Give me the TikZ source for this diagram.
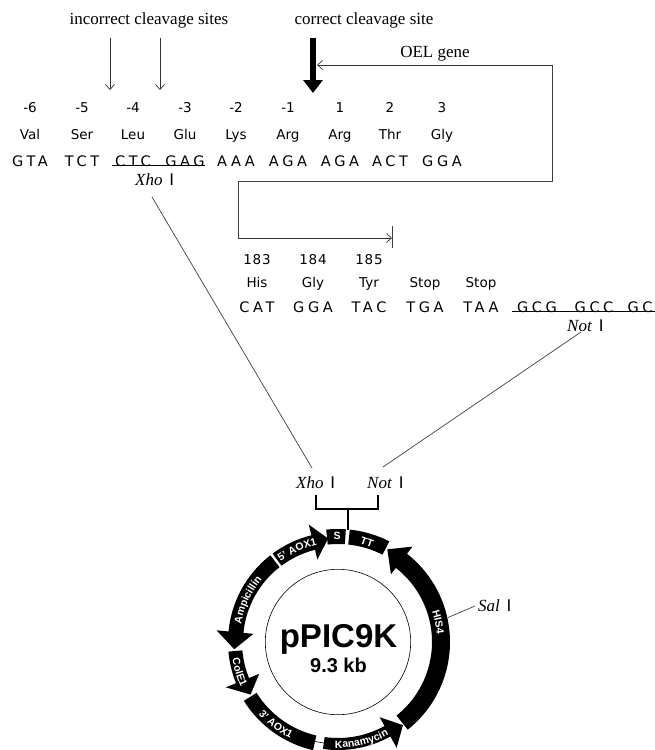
\documentclass[tikz,border=0pt]{standalone}
\usepackage{fontspec}
\setmainfont{Liberation Serif}
\setsansfont{Liberation Sans}
\newfontfamily\geneva{DejaVu Sans}
\newfontfamily\numfont[LetterSpace=6]{DejaVu Sans}
\newfontfamily\seqfont[LetterSpace=25]{DejaVu Sans}
\usetikzlibrary{arrows.meta,decorations.text}
\newcommand{\labfont}{\sffamily\bfseries\fontsize{10.5}{11}\selectfont\color{white}}
\tikzset{
  serif/.style={inner sep=0pt,font=\rmfamily\fontsize{17}{17}\selectfont},
  site/.style={inner sep=0pt,font=\rmfamily\fontsize{17}{17}\selectfont,anchor=west},
  num/.style={inner sep=0pt,anchor=base,font=\geneva\fontsize{13.5}{14}\selectfont},
  amino/.style={inner sep=0pt,anchor=base,font=\geneva\fontsize{13.5}{14}\selectfont},
  codon/.style={inner sep=0pt,anchor=base,font=\seqfont\fontsize{14.5}{15}\selectfont},
  thin line/.style={draw=black!75,line width=0.7pt},
  thinarrow/.style={draw=black!80,line width=0.7pt,-{Straight Barb[length=5pt,width=9pt,line width=0.7pt]}},
  seglabel/.style={inner sep=0pt,text=white,font=\sffamily\bfseries\fontsize{10.5}{11}\selectfont},
}
\newcommand{\siteI}[1]{\textit{#1}\hspace{.4em}{\sffamily I}}
% tail, base, tip angle; inner, outer, barb inner, barb outer, tip radius
\newcommand{\arcarrow}[8]{%
  \fill (#1:#5) arc[start angle=#1,end angle=#2,radius=#5] -- (#2:#7) -- (#3:#8) -- (#2:#6)
     -- (#2:#4) arc[start angle=#2,end angle=#1,radius=#4] -- cycle;}
\newcommand{\arcbox}[4]{%
  \fill (#1:#4) arc[start angle=#1,end angle=#2,radius=#4] -- (#2:#3)
     arc[start angle=#2,end angle=#1,radius=#3] -- cycle;}
% start angle, end angle, baseline radius, text
\newcommand{\arclabel}[4]{%
  \path[decorate,decoration={text along path,text align=center,text={|\labfont|#4}}]
    (#1:#3) arc[start angle=#1,end angle=#2,radius=#3];}
\begin{document}
\begin{tikzpicture}[yscale=-1,x=1pt,y=1pt]
\useasboundingbox (0,0) rectangle (655,750);
% headings
\node[serif] (inc) at (149,20) {incorrect cleavage sites};
\node[serif] (cor) at (364,20) {correct cleavage site};
\node[serif] (oel) at (435,54) {OEL gene};
% cleavage arrows
\coordinate (a1s) at (110,38); \coordinate (a1e) at (110,90);
\coordinate (a2s) at (160,38); \coordinate (a2e) at (160,90);
\coordinate (a3s) at (313,38); \coordinate (a3e) at (313,93);
\draw[thinarrow] (a1s) -- (a1e);
\draw[thinarrow] (a2s) -- (a2e);
\draw[line width=5.5pt,-{Triangle[length=13pt,width=19pt]}] (a3s) -- (a3e);
% first block
\foreach \x/\n/\a/\c [count=\i] in {30/-6/Val/GTA,82/-5/Ser/TCT,133/-4/Leu/CTC,185/-3/Glu/GAG,236/-2/Lys/AAA,288/-1/Arg/AGA,340/1/Arg/AGA,390/2/Thr/ACT,442/3/Gly/GGA}{
  \node[num] (n\i) at (\x,112.5) {\n};
  \node[amino] (aa\i) at (\x,139) {\a};
  \node[codon] (c\i) at (\x,166.5) {\c};
}
\coordinate (xu1) at (112,165.5); \coordinate (xu2) at (205,165.5);
\draw[black,line width=0.8pt] (xu1) -- (xu2);
\node[site] (xhoA) at (135,180) {\siteI{Xho}};
% gene path
\coordinate (g0) at (552,65); \coordinate (g1) at (552,181); \coordinate (g2) at (238,181);
\coordinate (g3) at (238,238); \coordinate (g4) at (392,238);
\coordinate (gh) at (317,65);
\draw[thinarrow] (g0) -- (gh);
\draw[thin line] (g0) -- (g1) -- (g2) -- (g3);
\draw[thinarrow] (g3) -- (g4);
\coordinate (t1) at (392.5,226); \coordinate (t2) at (392.5,248);
\draw[thin line] (t1) -- (t2);
% second block
\foreach \x/\n/\a/\c [count=\i] in {257/183/His/CAT,313/184/Gly/GGA,369/185/Tyr/TAC,425//Stop/TGA,481//Stop/TAA,537///GCG,594///GCC,640///GC}{
  \node[num,font=\numfont\fontsize{13.5}{14}\selectfont] (m\i) at (\x,264) {\n};
  \node[amino] (ab\i) at (\x,287.5) {\a};
  \node[codon] (d\i) at (\x,312) {\c};
}
\coordinate (nu1) at (512,311); \coordinate (nu2) at (655,311);
\draw[black,line width=0.8pt] (nu1) -- (nu2);
\node[site] (notA) at (567,326) {\siteI{Not}};
% leaders
\coordinate (lx1) at (152,197); \coordinate (lx2) at (312,468);
\coordinate (ln1) at (581,332); \coordinate (ln2) at (383,467);
\draw[thin line] (lx1) -- (lx2);
\draw[thin line] (ln1) -- (ln2);
\node[site] (xhoB) at (296,483) {\siteI{Xho}};
\node[site] (notB) at (367,483) {\siteI{Not}};
\node[site] (salB) at (478,606) {\siteI{Sal}};
\coordinate (ls1) at (448,617.5); \coordinate (ls2) at (475,606);
\draw[thin line] (ls1) -- (ls2);
% bracket
\coordinate (b1) at (316,495); \coordinate (b2) at (316,509); \coordinate (b3) at (378,509);
\coordinate (b4) at (378,495); \coordinate (b5) at (348,509); \coordinate (b6) at (348,530);
\draw[line width=1.3pt] (b1) -- (b2) -- (b3) -- (b4);
\draw[line width=1.3pt] (b5) -- (b6);
% plasmid
\begin{scope}[shift={(338,642)},yscale=-1]
  \draw[line width=0.6pt] (0,0) circle[radius=72.7];
  \draw[line width=0.6pt] (-103:102) arc[start angle=-103,end angle=-98,radius=102];
  \arcbox{96}{86}{98}{113}
  \arcbox{84}{63}{98}{113}
  \arcarrow{-51.5}{52}{62}{94}{112}{86}{121}{105}
  \arcarrow{-98}{-61}{-52}{96}{108}{86}{121}{105.5}
  \arcbox{-148}{-103}{96}{111}
  \arcarrow{-175}{-158}{-149}{96}{110}{85}{121}{102}
  \arcarrow{128}{174.5}{184}{95}{110}{85}{122}{104}
  \arcarrow{126.5}{104}{95.5}{95}{110}{85}{121}{104}
  \arclabel{143.8}{83.8}{99}{5' AOX1}
  \arclabel{190}{120}{98.5}{Ampicillin}
  \arclabel{167}{227}{107}{ColE1}
  \arclabel{-157}{-97}{107.5}{3' AOX1}
  \arclabel{-111.5}{-41.5}{106}{Kanamycin}
  \arclabel{41.4}{-18.6}{99}{HIS4}
\end{scope}
\node[inner sep=0pt,font=\sffamily\bfseries\fontsize{33}{33}\selectfont] (pname) at (338.5,639) {pPIC9K};
\node[inner sep=0pt,font=\sffamily\bfseries\fontsize{20}{20}\selectfont] (psize) at (338.5,665) {9.3 kb};
\node[seglabel] (lS) at (337,535.5) {S};
\node[seglabel,rotate=-20] (lTT) at (367,542) {TT};
\end{tikzpicture}
\end{document}
